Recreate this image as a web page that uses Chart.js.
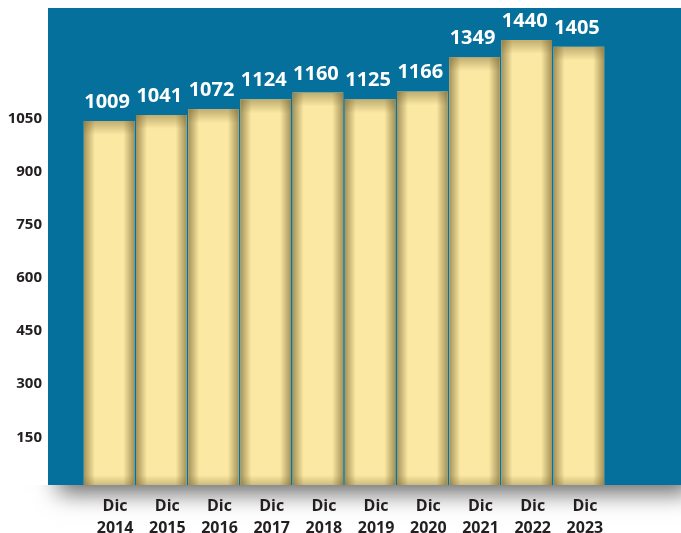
<!DOCTYPE html>
<html>
<head>
<meta charset="utf-8">
<script src="https://cdn.jsdelivr.net/npm/chart.js@4/dist/chart.umd.min.js"></script>
<style>
  body { margin: 0; background: #fff; }
  #wrap { width: 681px; height: 533px; }
</style>
</head>
<body>
<div id="wrap"><canvas id="myChart" width="681" height="533"></canvas></div>
<script>
// data
const months = ['Dic', 'Dic', 'Dic', 'Dic', 'Dic', 'Dic', 'Dic', 'Dic', 'Dic', 'Dic'];
const years = ['2014', '2015', '2016', '2017', '2018', '2019', '2020', '2021', '2022', '2023'];
const values = [1009, 1041, 1072, 1124, 1160, 1125, 1166, 1349, 1440, 1405];
const yTicks = [150, 300, 450, 600, 750, 900, 1050];

// the printed axis and the bar heights do not share one scale in the original,
// so bars use their own (hidden) value axis
const axisMin = 15.4, axisMax = 1361.1;
const barMin = -932, barMax = 1611;

const panelColor = '#04709b';
const barColor = '#fbe9a3';

const panelPlugin = {
  id: 'panel',
  beforeDraw(chart) {
    const ctx = chart.ctx;
    const a = chart.chartArea;
    const left = 48, top = a.top, right = chart.width, bottom = a.bottom;
    // soft shadow under the panel
    ctx.save();
    ctx.beginPath();
    ctx.rect(0, bottom, chart.width, chart.height - bottom);
    ctx.clip();
    ctx.shadowColor = 'rgba(0,0,0,0.6)';
    ctx.shadowBlur = 22;
    ctx.shadowOffsetX = 10;
    ctx.shadowOffsetY = 8;
    ctx.fillStyle = '#888';
    ctx.fillRect(left, top, right - left, bottom - top);
    ctx.restore();
    ctx.save();
    ctx.fillStyle = panelColor;
    ctx.fillRect(left, top, right - left, bottom - top);
    ctx.restore();
  }
};

const barShadePlugin = {
  id: 'barShade',
  afterDatasetsDraw(chart) {
    const ctx = chart.ctx;
    const meta = chart.getDatasetMeta(0);
    meta.data.forEach(function(bar, i) {
      const p = bar.getProps(['x', 'y', 'base', 'width'], true);
      const l = p.x - p.width / 2, r = p.x + p.width / 2;
      const t = p.y, b = p.base;
      ctx.save();
      ctx.beginPath();
      ctx.rect(l, t, r - l, b - t);
      ctx.clip();
      let g = ctx.createLinearGradient(l, 0, r, 0);
      g.addColorStop(0, 'rgba(120,100,50,0.65)');
      g.addColorStop(0.22, 'rgba(120,100,50,0)');
      g.addColorStop(0.78, 'rgba(120,100,50,0)');
      g.addColorStop(1, 'rgba(120,100,50,0.65)');
      ctx.fillStyle = g;
      ctx.fillRect(l, t, r - l, b - t);
      g = ctx.createLinearGradient(0, t, 0, t + 14);
      g.addColorStop(0, 'rgba(120,100,50,0.45)');
      g.addColorStop(1, 'rgba(120,100,50,0)');
      ctx.fillStyle = g;
      ctx.fillRect(l, t, r - l, 14);
      g = ctx.createLinearGradient(0, b - 10, 0, b);
      g.addColorStop(0, 'rgba(120,100,50,0)');
      g.addColorStop(1, 'rgba(120,100,50,0.35)');
      ctx.fillStyle = g;
      ctx.fillRect(l, b - 10, r - l, 10);
      ctx.restore();

      // value on top
      ctx.save();
      ctx.fillStyle = '#ffffff';
      ctx.font = 'bold 20px "Open Sans"';
      ctx.textAlign = 'center';
      ctx.textBaseline = 'alphabetic';
      ctx.fillText(String(values[i]), p.x - 2, t - 13);
      ctx.restore();
    });
  }
};

var ctx = document.getElementById('myChart').getContext('2d');
var chart = new Chart(ctx, {
  type: 'bar',
  data: {
    labels: years.map((y, i) => [months[i], y]),
    datasets: [{
      data: values,
      yAxisID: 'yb',
      base: barMin,
      backgroundColor: barColor,
      borderWidth: 0,
      barPercentage: 0.97,
      categoryPercentage: 1
    }]
  },
  options: {
    responsive: false,
    devicePixelRatio: 1,
    animation: false,
    layout: { padding: { left: 0, right: 76, top: 8, bottom: 0 } },
    plugins: { legend: { display: false }, tooltip: { enabled: false } },
    scales: {
      x: {
        grid: { display: false, drawTicks: false },
        border: { display: false },
        afterFit(scale) { scale.height = 48; },
        ticks: {
          color: '#231f20',
          padding: 10,
          labelOffset: 6,
          maxRotation: 0,
          autoSkip: false,
          font: { family: 'Open Sans', weight: 'bold', size: 16, lineHeight: '22px' }
        }
      },
      y: {
        position: 'left',
        min: axisMin,
        max: axisMax,
        grid: { display: false, drawTicks: false },
        border: { display: false },
        afterFit(scale) {
          scale.width = 83;
          scale.paddingTop = 0;
          scale.paddingBottom = 0;
        },
        afterBuildTicks(scale) { scale.ticks = yTicks.map(v => ({ value: v })); },
        ticks: {
          color: '#231f20',
          padding: 41,
          callback: v => String(v),
          font: { family: 'Open Sans', weight: 'bold', size: 15 }
        }
      },
      yb: {
        display: false,
        min: barMin,
        max: barMax
      }
    }
  },
  plugins: [panelPlugin, barShadePlugin]
});
</script>
</body>
</html>
